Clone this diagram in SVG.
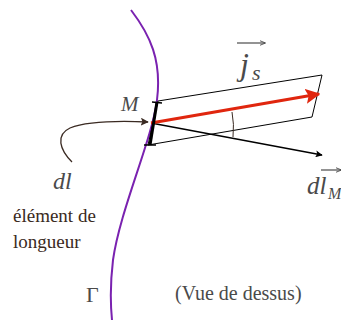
<svg xmlns="http://www.w3.org/2000/svg" width="341" height="320" viewBox="0 0 341 320">
<style>
text{font-family:'Liberation Serif','Times New Roman',serif}
.lbl{fill:#4a4a4a}
.it{font-style:italic}
.hand{fill:#3a2a22}
</style>
<defs>
<marker id="ah" viewBox="0 0 10 10" refX="9" refY="5" markerWidth="7" markerHeight="7" markerUnits="userSpaceOnUse" orient="auto"><path d="M0,0 L10,5 L0,10 L2,5 Z" fill="#000"/></marker>
<marker id="ahr" viewBox="0 0 10 10" refX="9" refY="5" markerWidth="5" markerHeight="5" orient="auto"><path d="M0,0 L10,5 L0,10 L2,5 Z" fill="#e0260e"/></marker>
<marker id="ahb" viewBox="0 0 10 10" refX="9" refY="5" markerWidth="8" markerHeight="8" markerUnits="userSpaceOnUse" orient="auto"><path d="M0,0 L10,5 L0,10 L2,5 Z" fill="#3a2a22"/></marker>
<marker id="ahs" viewBox="0 0 10 10" refX="9" refY="5" markerWidth="6" markerHeight="6" markerUnits="userSpaceOnUse" orient="auto"><path d="M0,1 L10,5 L0,9" fill="none" stroke="#4a4a4a" stroke-width="1.5"/></marker>
</defs>
<g id="curve-gamma">
<path d="M131,10 C150,35 162,60 157,100 C152,140 120,210 113,260 C110,285 110,300 112,320" fill="none" stroke="#7a22b0" stroke-width="2"/>
</g>
<g id="plane">
<polygon points="158,101 322,75 312,117 148,145" fill="none" stroke="#000" stroke-width="1"/>
</g>
<g id="connectors">
<line x1="151" y1="123" x2="322" y2="155" stroke="#000" stroke-width="1.3" marker-end="url(#ah)"/>
<line x1="151" y1="123" x2="319" y2="94" stroke="#e0260e" stroke-width="3" marker-end="url(#ahr)"/>
<path d="M232,112 A83,83 0 0 1 233,137" fill="none" stroke="#3a2a22" stroke-width="1"/>
<path d="M72,162 C60,150 55,135 70,128 C90,120 125,121 148,122" fill="none" stroke="#3a2a22" stroke-width="1.3" marker-end="url(#ahb)"/>
</g>
<g id="dl-segment">
<line x1="157" y1="102" x2="150" y2="145" stroke="#000" stroke-width="3"/>
<line x1="152" y1="102" x2="162" y2="103" stroke="#000" stroke-width="1.5"/>
<line x1="144" y1="145" x2="156" y2="145" stroke="#000" stroke-width="1.5"/>
</g>
<g id="labels">
<text class="lbl it" x="121" y="111" font-size="21">M</text>
<line x1="237" y1="43" x2="265" y2="43" stroke="#4a4a4a" stroke-width="1.2" marker-end="url(#ahs)"/>
<text class="lbl it" x="240" y="75" font-size="32">j</text>
<text class="lbl it" x="252" y="80" font-size="22">s</text>
<text class="lbl it" x="53" y="189" font-size="24">dl</text>
<text class="hand" x="13" y="222" font-size="19">élément de</text>
<text class="hand" x="13" y="248" font-size="19">longueur</text>
<text class="lbl" x="86" y="302" font-size="22">Γ</text>
<text class="lbl" x="175" y="300" font-size="20">(Vue de dessus)</text>
<line x1="321" y1="170" x2="341" y2="170" stroke="#4a4a4a" stroke-width="1.2" marker-end="url(#ahs)"/>
<text class="lbl it" x="307" y="194" font-size="25">dl</text>
<text class="lbl it" x="328" y="199" font-size="16">M</text>
</g>
</svg>
